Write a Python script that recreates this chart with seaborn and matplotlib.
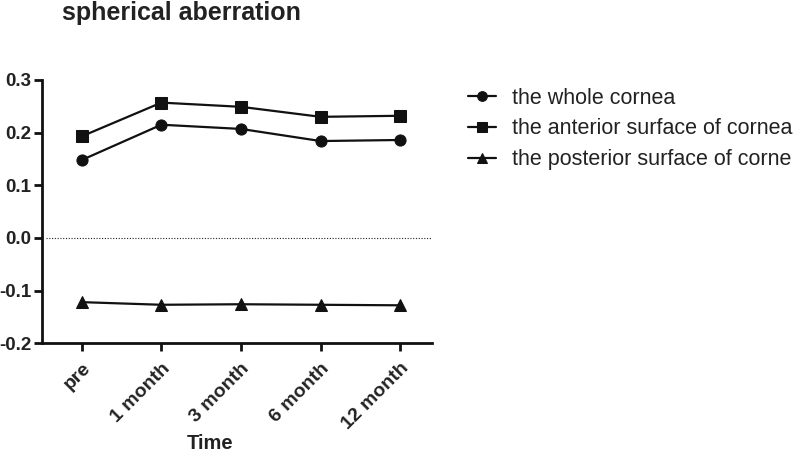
import pandas as pd
import numpy as np
import seaborn as sns
import matplotlib.pyplot as plt

sns.set_style("ticks")
plt.rcParams['font.family'] = ['Liberation Sans', 'DejaVu Sans']

time_labels = ["pre", "1 month", "3 month", "6 month", "12 month"]
whole = [0.148, 0.215, 0.207, 0.184, 0.186]
anterior = [0.193, 0.257, 0.249, 0.230, 0.232]
posterior = [-0.122, -0.127, -0.126, -0.127, -0.128]
series_names = ["the whole cornea", "the anterior surface of cornea", "the posterior surface of corne"]

df = pd.DataFrame({
    "Time": time_labels * 3,
    "value": whole + anterior + posterior,
    "series": np.repeat(series_names, len(time_labels)),
})
df["x"] = df["Time"].map({t: i for i, t in enumerate(time_labels)})

fig = plt.figure(figsize=(8, 4.57), dpi=100)
ax = fig.add_axes([0.0525, 0.249, 0.4875, 0.576])

sns.lineplot(data=df, x="x", y="value", style="series", markers=["o", "s", "^"],
             dashes=False, color="#111111", linewidth=1.6, markersize=8,
             markeredgecolor="#111111", ax=ax, legend=True)

ax.axhline(0, color="#222222", linestyle=(0, (1, 1.5)), linewidth=0.8, xmin=0.01)

ax.set_xlim(-0.5, 4.4)
ax.set_ylim(-0.2, 0.3)
ax.set_yticks([-0.2, -0.1, 0.0, 0.1, 0.2, 0.3])
ax.set_yticklabels(["-0.2", "-0.1", "0.0", "0.1", "0.2", "0.3"], fontweight="bold",
                   fontsize=13.5, color="#222222")
ax.set_xticks(range(len(time_labels)))
ax.set_xticklabels(time_labels, rotation=45, ha="right", rotation_mode="anchor",
                   fontweight="bold", fontsize=14, color="#222222")
ax.tick_params(axis="both", direction="out", length=6, width=2, color="#111111", pad=1.5)
ax.tick_params(axis="x", pad=6)

for s in ["top", "right"]:
    ax.spines[s].set_visible(False)
for s in ["left", "bottom"]:
    ax.spines[s].set_linewidth(2)
    ax.spines[s].set_color("#111111")

ax.set_ylabel("")
ax.set_xlabel("")
fig.text(0.263, 0.008, "Time", fontweight="bold", fontsize=14.5, color="#222222",
         ha="center", va="bottom")

fig.text(0.077, 0.972, "spherical aberration", fontweight="bold", fontsize=18,
         ha="left", va="center", color="#222222")

handles, labels = ax.get_legend_handles_labels()
for h in handles:
    h.set_markersize(7)
leg = ax.legend(handles, labels, loc="upper left", bbox_to_anchor=(0.574, 0.827),
                bbox_transform=fig.transFigure, frameon=False, fontsize=15.5,
                handlelength=1.3, handletextpad=0.75, labelspacing=0.45, borderaxespad=0)
for t in leg.get_texts():
    t.set_color("#222222")

fig.savefig("out.png", dpi=100)
